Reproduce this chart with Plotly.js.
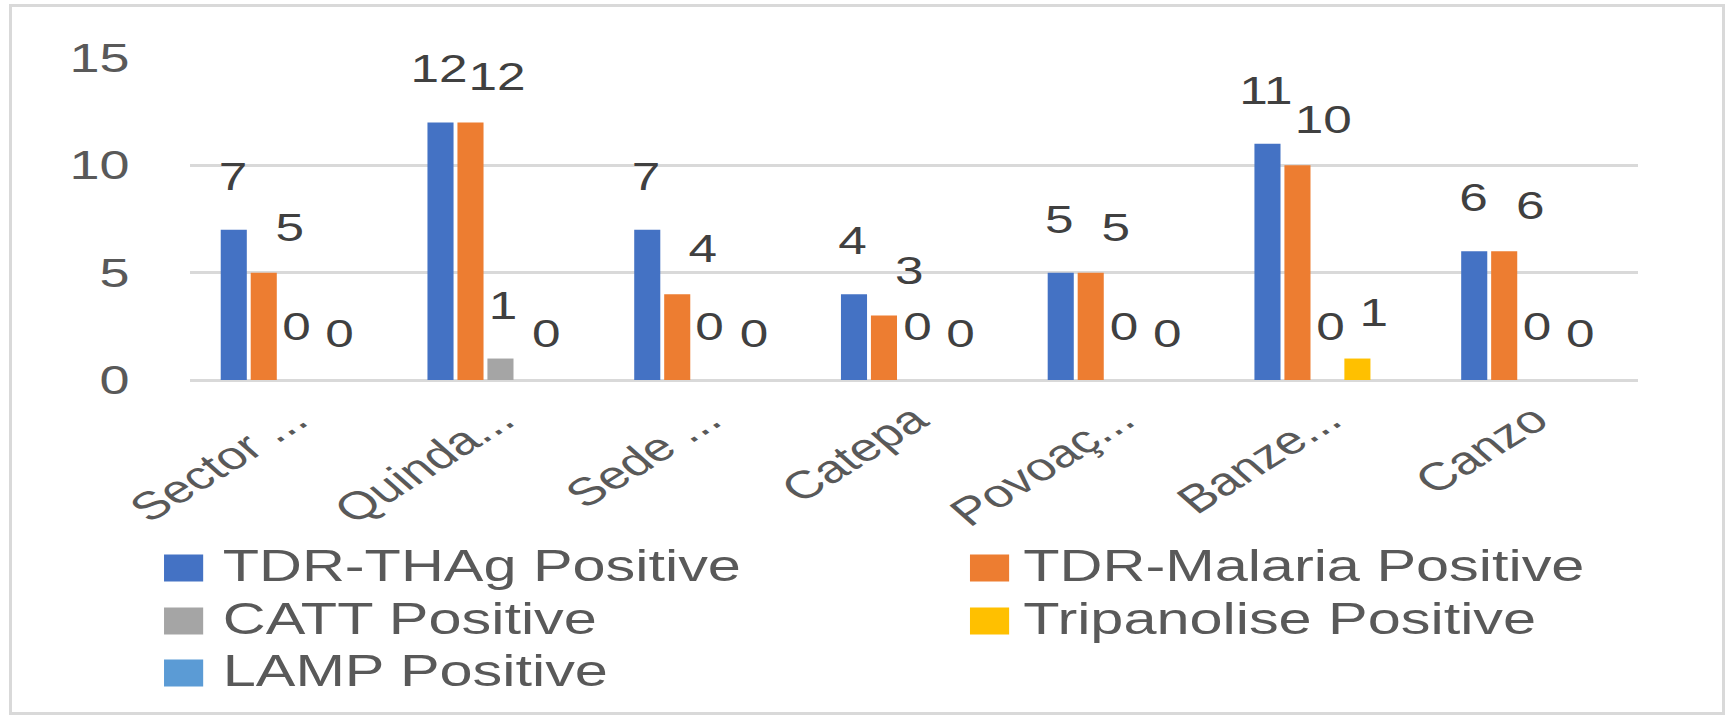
<!DOCTYPE html>
<html><head><meta charset="utf-8">
<script src="https://cdn.plot.ly/plotly-3.0.1.min.js"></script>
<style>
html,body{margin:0;padding:0;background:#fff;overflow:hidden;width:1727px;height:716px;}
#frame{position:absolute;left:9px;top:4px;width:1716px;height:711px;box-sizing:border-box;border:3px solid #d9d9d9;pointer-events:none;}
#wrap{position:absolute;left:0;top:0;width:1279px;height:716px;transform:scaleX(1.35);transform-origin:0 0;}
#chart{width:1279px;height:716px;}
</style></head><body>
<div id="wrap"><div id="chart"></div></div>
<div id="frame"></div>
<script>
// ---- data ----
const categories = ["Sector ...", "Quinda...", "Sede ...", "Catepa", "Povoaç...", "Banze...", "Canzo"];
const seriesNames = ["TDR-THAg Positive", "TDR-Malaria Positive", "CATT Positive", "Tripanolise Positive", "LAMP Positive"];
const thagPositive = [7, 12, 7, 4, 5, 11, 6];
const malariaPositive = [5, 12, 4, 3, 5, 10, 6];
const cattPositive = [0, 1, 0, 0, 0, 0, 0];
const tripanolisePositive = [0, 0, 0, 0, 0, 1, 0];
const lampPositive = [0, 0, 0, 0, 0, 0, 0];
const yTickVals = [0, 5, 10, 15];

// ---- style ----
const colors = ["#4472C4", "#ED7D31", "#A5A5A5", "#FFC000", "#5B9BD5"];
const FONT = "Liberation Sans, Arial, sans-serif";
const W = 1279, H = 716;
const M = {l: 141, r: 66, t: 58, b: 336};
const plotW = W - M.l - M.r, plotH = H - M.t - M.b;
const bargap = 0.275, bargroupgap = 0.13;
const labelDx = [-1, 19, 2, 12];
const labelDy = [53, 45, 53, 46];

const allSeries = [thagPositive, malariaPositive, cattPositive, tripanolisePositive, lampPositive];

const traces = allSeries.map((vals, i) => ({
  type: "bar",
  name: seriesNames[i],
  x: categories,
  y: vals,
  marker: {color: colors[i]},
  hoverinfo: "x+y+name"
}));

const slot = plotW / categories.length * (1 - bargap) / allSeries.length;
const annotations = [];
for (let s = 0; s < 4; s++) {
  allSeries[s].forEach((v, j) => {
    annotations.push({
      x: categories[j], y: v, xref: "x", yref: "y",
      text: String(v), showarrow: false,
      xanchor: "center", yanchor: "middle",
      xshift: (s - 2) * slot + labelDx[s], yshift: labelDy[s],
      font: {family: FONT, size: 38, color: "#404040"}
    });
  });
}

// custom legend (pixel positions converted to paper coords)
const px2x = p => (p - M.l) / plotW;
const px2y = p => (M.t + plotH - p) / plotH;
const legendCol = [0, 1, 0, 1, 0];
const legendRow = [0, 0, 1, 1, 2];
const colMarkerX = [121.5, 718.5];
const colTextX = [163, 756];
const rowY = [568, 621, 673];
const markerW = 29, markerH = 27;
const shapes = [];
seriesNames.forEach((nm, i) => {
  const mx = colMarkerX[legendCol[i]], cy = rowY[legendRow[i]];
  shapes.push({
    type: "rect", xref: "paper", yref: "paper",
    x0: px2x(mx), x1: px2x(mx + markerW),
    y0: px2y(cy + markerH / 2), y1: px2y(cy - markerH / 2),
    fillcolor: colors[i], line: {width: 0}
  });
  annotations.push({
    xref: "paper", yref: "paper",
    x: px2x(colTextX[legendCol[i]]), y: px2y(cy - 3),
    xanchor: "left", yanchor: "middle", showarrow: false,
    text: nm, font: {family: FONT, size: 44, color: "#595959"}
  });
});

const layout = {
  width: W, height: H,
  margin: M,
  paper_bgcolor: "#ffffff", plot_bgcolor: "#ffffff",
  barmode: "group", bargap: bargap, bargroupgap: bargroupgap,
  showlegend: false,
  font: {family: FONT, color: "#595959"},
  xaxis: {
    type: "category",
    tickangle: -40,
    tickfont: {family: FONT, size: 39, color: "#595959"},
    showgrid: false, showline: false, ticks: "",
    zeroline: false,
    ticklabelstandoff: 8
  },
  yaxis: {
    range: [0, 15], tickvals: yTickVals,
    tickfont: {family: FONT, size: 40, color: "#595959"},
    gridcolor: "#d9d9d9", gridwidth: 3,
    zeroline: true, zerolinecolor: "#d9d9d9", zerolinewidth: 3,
    showline: false, ticks: "",
    ticklabelstandoff: 44
  },
  annotations: annotations,
  shapes: shapes
};

Plotly.newPlot("chart", traces, layout, {displayModeBar: false, staticPlot: true});
</script>
</body></html>
